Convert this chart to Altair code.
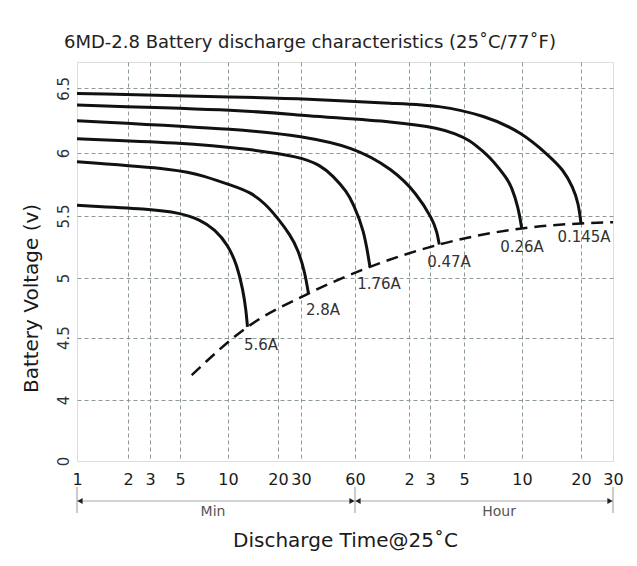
import altair as alt
import pandas as pd

# ---------------- data (time in minutes, voltage in V) ----------------
series_names = ["0.145A", "0.26A", "0.47A", "1.76A", "2.8A", "5.6A"]

t_0145 = [1, 13.6, 29.5, 107, 200, 386, 600, 834, 971, 1092, 1165, 1200]
v_0145 = [6.46, 6.43, 6.42, 6.38, 6.37, 6.29, 6.16, 5.97, 5.87, 5.73, 5.60, 5.44]

t_026 = [1, 13.6, 29.5, 107, 209, 262, 322, 378, 424, 500, 530, 574, 598]
v_026 = [6.37, 6.33, 6.29, 6.24, 6.19, 6.15, 6.10, 6.01, 5.94, 5.80, 5.73, 5.57, 5.40]

t_047 = [1, 13.6, 29.5, 58.5, 97.7, 139, 188, 200, 207]
v_047 = [6.25, 6.18, 6.13, 6.05, 5.87, 5.68, 5.47, 5.37, 5.27]

t_176 = [1, 5, 13.6, 29.5, 38.3, 45.2, 54.2, 58.5, 67.3, 72.7]
v_176 = [6.11, 6.08, 6.03, 5.97, 5.905, 5.82, 5.69, 5.60, 5.39, 5.09]

t_28 = [1, 5, 6.97, 10.7, 13.6, 16.7, 20, 24.7, 28.5, 31.6, 33]
v_28 = [5.93, 5.87, 5.82, 5.74, 5.69, 5.60, 5.48, 5.35, 5.23, 5.04, 4.87]

t_56 = [1, 3, 5, 6.67, 8.29, 10, 11.33, 12.31, 12.84, 13.1]
v_56 = [5.585, 5.556, 5.524, 5.472, 5.391, 5.266, 5.105, 4.90, 4.73, 4.59]

# final discharge voltage (dashed)
t_cut = [5.92, 13.1, 33, 72.7, 207, 598, 1200, 1800]
v_cut = [4.20, 4.59, 4.87, 5.09, 5.27, 5.40, 5.44, 5.45]

# curve labels
lab_text = ["5.6A", "2.8A", "1.76A", "0.47A", "0.26A", "0.145A"]
lab_t = [15.8, 39.8, 81.7, 239.5, 600, 1246]
lab_v = [4.44, 4.73, 4.95, 5.13, 5.25, 5.33]

# axes
x_tick_values = [1, 2, 3, 5, 10, 20, 30, 60, 120, 180, 300, 600, 1200, 1800]
x_tick_labels = ["1", "2", "3", "5", "10", "20", "30", "60", "2", "3", "5", "10", "20", "30"]
y_tick_values = [0, 4, 4.5, 5, 5.5, 6, 6.5]
y_top = 6.7

# time-unit bracket under the axis
unit_names = ["Min", "Hour"]
unit_label_t = [8.05, 456]
unit_start = [1, 60]
unit_end = [60, 1800]
bracket_t = [1, 60, 1800]

# ---------------- tables ----------------
rows = []
for name, ts, vs in zip(series_names,
                        [t_0145, t_026, t_047, t_176, t_28, t_56],
                        [v_0145, v_026, v_047, v_176, v_28, v_56]):
    for i, (t, v) in enumerate(zip(ts, vs)):
        rows.append({"series": name, "t": t, "v": v, "i": i})
curves = pd.DataFrame(rows)
cut = pd.DataFrame({"t": t_cut, "v": v_cut, "i": list(range(len(t_cut)))})
labels = pd.DataFrame({"label": lab_text, "t": lab_t, "v": lab_v})
units = pd.DataFrame({"unit": unit_names, "t": unit_label_t, "t0": unit_start, "t1": unit_end})
brackets = pd.DataFrame({"t": bracket_t})
arrows_left = pd.DataFrame({"t": unit_start})
arrows_right = pd.DataFrame({"t": unit_end})

FONT = "DejaVu Sans"
W, H = 536, 399

# piecewise scales matching the hand-drawn grid of the original
xscale = alt.Scale(type="log", domain=x_tick_values,
                   range=[0, 51, 73, 103, 151, 201, 224, 278, 332, 353, 387, 445, 504, 536],
                   nice=False)
yscale = alt.Scale(type="linear", domain=y_tick_values + [y_top],
                   range=[399, 338, 275.7, 216, 154, 91, 26.3, 0],
                   nice=False, zero=False)

label_expr = "[" + ",".join("'%s'" % s for s in x_tick_labels) + "][indexof([" + \
    ",".join(str(v) for v in x_tick_values) + "], datum.value)]"

xaxis = alt.Axis(values=x_tick_values, labelExpr=label_expr, title="Discharge Time@25\u02daC",
                 titleFont=FONT, titleFontSize=20, titleFontWeight="normal", titleColor="#1a1a1a",
                 titleBaseline="middle", titleY=79, titleX=W / 2,
                 labelFont=FONT, labelFontSize=16, labelColor="#1a1a1a",
                 labelBaseline="top", labelPadding=10, labelFlush=False,
                 labelOverlap=False, labelBound=False,
                 ticks=False, tickSize=0, domain=False,
                 grid=True, gridColor="#8e9a94", gridDash=[4, 3], gridWidth=1,
                 gridOpacity={"condition": {"test": "datum.value == 1 || datum.value >= 1800", "value": 0}, "value": 1})
yaxis = alt.Axis(values=y_tick_values, labelExpr="datum.value + ''", title="Battery Voltage (v)",
                 titleFont=FONT, titleFontSize=20, titleFontWeight="normal", titleColor="#1a1a1a",
                 titleAngle=270, titleBaseline="alphabetic", titleAlign="center",
                 titleX=-40, titleY=236,
                 labelFont=FONT, labelFontSize=15, labelColor="#333333",
                 labelAngle=270, labelAlign="center", labelBaseline="alphabetic",
                 labelPadding=9, labelOverlap=False, labelBound=False, labelFlush=False,
                 ticks=False, tickSize=0, domain=False,
                 grid=True, gridColor="#8e9a94", gridDash=[4, 3], gridWidth=1,
                 gridOpacity={"condition": {"test": "datum.value == 0", "value": 0}, "value": 1})

X = alt.X("t:Q", scale=xscale, axis=xaxis)
Y = alt.Y("v:Q", scale=yscale, axis=yaxis)

curve_layer = alt.Chart(curves).mark_line(
    color="#111111", strokeWidth=3, interpolate="basis", strokeCap="butt"
).encode(x=X, y=Y, detail="series:N", order="i:Q")

cut_layer = alt.Chart(cut).mark_line(
    color="#111111", strokeWidth=2.5, strokeDash=[12, 7], interpolate="monotone"
).encode(x=X, y=Y, order="i:Q")

label_layer = alt.Chart(labels).mark_text(
    font=FONT, fontSize=15, color="#333333", align="center", baseline="middle"
).encode(x=X, y=Y, text="label:N")

bracket_line = alt.Chart(units).mark_rule(color="#a8a8a8", strokeWidth=1.2).encode(
    x=alt.X("t0:Q", scale=xscale, axis=xaxis), x2="t1:Q", y=alt.value(439))
bracket_ticks = alt.Chart(brackets).mark_rule(color="#a8a8a8", strokeWidth=1.2).encode(
    x=alt.X("t:Q", scale=xscale, axis=xaxis), y=alt.value(425), y2=alt.value(451))
arrow_l = alt.Chart(arrows_left).mark_point(
    shape="triangle-left", filled=True, size=36, color="#222222", opacity=1, xOffset=3
).encode(x=alt.X("t:Q", scale=xscale, axis=xaxis), y=alt.value(439))
arrow_r = alt.Chart(arrows_right).mark_point(
    shape="triangle-right", filled=True, size=36, color="#222222", opacity=1, xOffset=-3
).encode(x=alt.X("t:Q", scale=xscale, axis=xaxis), y=alt.value(439))
unit_text = alt.Chart(units).mark_text(
    font=FONT, fontSize=14, color="#555555", align="center", baseline="middle"
).encode(x=alt.X("t:Q", scale=xscale, axis=xaxis), y=alt.value(450), text="unit:N")

chart = alt.layer(
    curve_layer, cut_layer, label_layer,
    bracket_line, bracket_ticks, arrow_l, arrow_r, unit_text
).properties(
    width=W, height=H,
    autosize=alt.AutoSizeParams(type="none"),
    padding={"left": 69, "top": 54, "right": 16, "bottom": 96},
    title=alt.TitleParams(
        text="6MD-2.8 Battery discharge characteristics (25\u02daC/77\u02daF)",
        font=FONT, fontSize=18, fontWeight="normal", color="#222222",
        anchor="start", frame="group", dx=-13, dy=20, baseline="alphabetic", offset=16),
).configure_view(
    fill="#d5ebe0", stroke="#141414", strokeWidth=2.5
).configure(background="white")

chart.save("out.html", embed_options={"renderer": "svg", "actions": False})
